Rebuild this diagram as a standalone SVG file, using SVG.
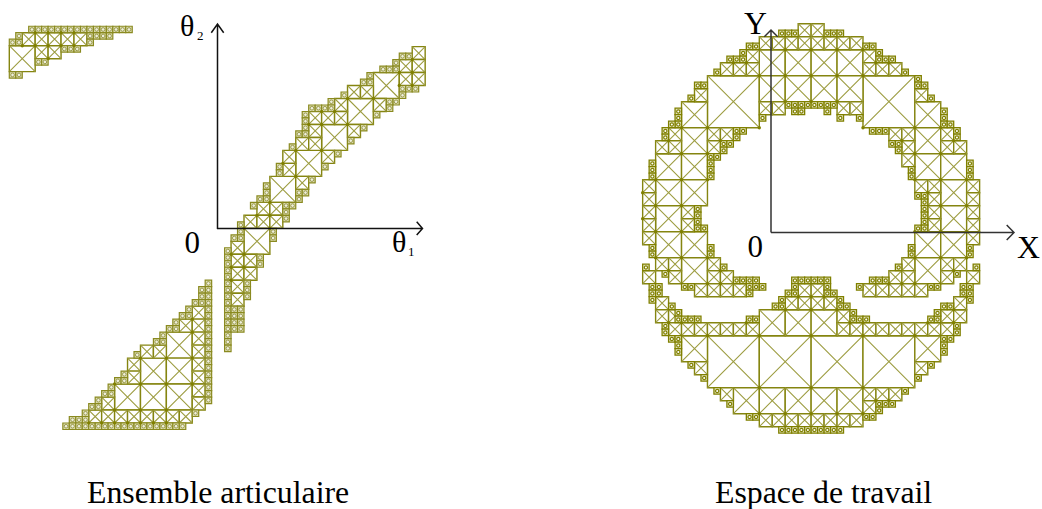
<svg xmlns="http://www.w3.org/2000/svg" width="1042" height="509" viewBox="0 0 1042 509">
<style>
.f{fill:#fff;stroke:#858510;stroke-width:1.4;vector-effect:non-scaling-stroke}
.d{fill:none;stroke:#9c9c40;stroke-width:1.1;vector-effect:non-scaling-stroke}
.o{fill:#e4e4c0;stroke:#808000;stroke-width:1.3;vector-effect:non-scaling-stroke}
.r{fill:#fff;stroke:#808000;stroke-width:1.2;vector-effect:non-scaling-stroke}
.p{fill:#dcdcb0;stroke:#8a8a20;stroke-width:1.2;vector-effect:non-scaling-stroke}
.q{fill:#eeeedc;stroke:#8a8a30;stroke-width:.8;vector-effect:non-scaling-stroke}
.k{fill:#808000}
#articular-main .f,#articular-corner .f{stroke:#98983c;stroke-width:1.7}
.ax{fill:none;stroke:#111;stroke-width:1.5}
text{font-family:"Liberation Serif","Times New Roman",serif;fill:#000}
.l{font-size:31.800px}
</style>
<defs>
<g id="S"><rect class="o" width="1" height="1"/><ellipse class="r" cx=".5" cy=".5" rx=".25" ry=".25"/></g>
<g id="T"><rect class="p" width="1" height="1"/><ellipse class="q" cx=".5" cy=".5" rx=".28" ry=".28"/></g>
<g id="M"><rect class="f" width="2" height="2"/><path class="d" d="M0 0L2 2M2 0L0 2"/></g>
<g id="L"><rect class="f" width="4" height="4"/><path class="d" d="M0 0L4 4M4 0L0 4"/></g>
<g id="B"><rect class="f" width="8" height="8"/><path class="d" d="M0 0L8 8M8 0L0 8"/></g>
<ellipse id="D" class="k" rx=".26" ry=".26"/>
</defs>

<g id="workspace" transform="translate(759.3,75.7) scale(6.48,6.5)">
<use href="#B" x="-8" y="0"/><use href="#B" x="16" y="0"/><use href="#B" x="-8" y="40"/><use href="#B" x="0" y="40"/><use href="#B" x="8" y="40"/><use href="#B" x="16" y="40"/>
<use href="#L" x="0" y="-4"/><use href="#L" x="4" y="-4"/><use href="#L" x="8" y="-4"/><use href="#L" x="12" y="-4"/><use href="#L" x="0" y="0"/><use href="#L" x="4" y="0"/><use href="#L" x="8" y="0"/><use href="#L" x="12" y="0"/>
<use href="#L" x="-12" y="4"/><use href="#L" x="-12" y="8"/><use href="#L" x="-16" y="12"/><use href="#L" x="-12" y="12"/><use href="#L" x="-16" y="16"/><use href="#L" x="-12" y="16"/><use href="#L" x="-16" y="20"/><use href="#L" x="-16" y="24"/><use href="#L" x="-12" y="24"/><use href="#L" x="-12" y="28"/><use href="#L" x="-12" y="40"/>
<use href="#L" x="0" y="36"/><use href="#L" x="4" y="36"/><use href="#L" x="8" y="36"/>
<use href="#L" x="-4" y="48"/><use href="#L" x="0" y="48"/><use href="#L" x="4" y="48"/><use href="#L" x="8" y="48"/><use href="#L" x="12" y="48"/>
<use href="#L" x="24" y="4"/><use href="#L" x="24" y="8"/><use href="#L" x="24" y="12"/><use href="#L" x="28" y="12"/><use href="#L" x="28" y="16"/><use href="#L" x="28" y="20"/><use href="#L" x="24" y="24"/><use href="#L" x="28" y="24"/><use href="#L" x="24" y="28"/><use href="#L" x="24" y="40"/>
<use href="#M" x="6" y="-8"/><use href="#M" x="8" y="-8"/>
<use href="#M" x="0" y="-6"/><use href="#M" x="2" y="-6"/><use href="#M" x="4" y="-6"/><use href="#M" x="6" y="-6"/><use href="#M" x="8" y="-6"/><use href="#M" x="10" y="-6"/><use href="#M" x="12" y="-6"/><use href="#M" x="14" y="-6"/>
<use href="#M" x="0" y="4"/><use href="#M" x="2" y="4"/><use href="#M" x="12" y="4"/><use href="#M" x="14" y="4"/>
<use href="#M" x="-2" y="-4"/><use href="#M" x="-6" y="-2"/><use href="#M" x="-4" y="-2"/><use href="#M" x="-2" y="-2"/>
<use href="#M" x="-10" y="2"/><use href="#M" x="-14" y="8"/><use href="#M" x="-8" y="8"/><use href="#M" x="-6" y="8"/><use href="#M" x="-16" y="10"/><use href="#M" x="-14" y="10"/><use href="#M" x="-8" y="10"/>
<use href="#M" x="-18" y="16"/><use href="#M" x="-18" y="18"/><use href="#M" x="-18" y="20"/><use href="#M" x="-18" y="22"/><use href="#M" x="-18" y="24"/><use href="#M" x="-12" y="20"/><use href="#M" x="-12" y="22"/>
<use href="#M" x="-16" y="28"/><use href="#M" x="-14" y="28"/><use href="#M" x="-8" y="28"/><use href="#M" x="-14" y="30"/><use href="#M" x="-8" y="30"/><use href="#M" x="-6" y="30"/>
<use href="#M" x="-10" y="32"/><use href="#M" x="-8" y="32"/><use href="#M" x="-6" y="32"/><use href="#M" x="-4" y="32"/>
<use href="#M" x="-18" y="30"/><use href="#M" x="-16" y="34"/><use href="#M" x="-16" y="36"/><use href="#M" x="-14" y="36"/>
<use href="#M" x="-14" y="38"/><use href="#M" x="-12" y="38"/><use href="#M" x="-10" y="38"/><use href="#M" x="-8" y="38"/><use href="#M" x="-6" y="38"/><use href="#M" x="-4" y="38"/><use href="#M" x="-2" y="38"/>
<use href="#M" x="-10" y="44"/><use href="#M" x="-6" y="48"/>
<use href="#M" x="0" y="52"/><use href="#M" x="2" y="52"/><use href="#M" x="4" y="52"/><use href="#M" x="6" y="52"/><use href="#M" x="8" y="52"/><use href="#M" x="10" y="52"/><use href="#M" x="12" y="52"/><use href="#M" x="14" y="52"/>
<use href="#M" x="6" y="32"/><use href="#M" x="8" y="32"/><use href="#M" x="4" y="34"/><use href="#M" x="6" y="34"/><use href="#M" x="8" y="34"/><use href="#M" x="10" y="34"/><use href="#M" x="12" y="36"/><use href="#M" x="12" y="38"/>
<use href="#M" x="14" y="38"/><use href="#M" x="16" y="38"/><use href="#M" x="18" y="38"/><use href="#M" x="20" y="38"/><use href="#M" x="22" y="38"/><use href="#M" x="24" y="38"/><use href="#M" x="26" y="38"/><use href="#M" x="28" y="38"/>
<use href="#M" x="28" y="36"/><use href="#M" x="30" y="36"/><use href="#M" x="30" y="34"/><use href="#M" x="32" y="30"/>
<use href="#M" x="24" y="44"/><use href="#M" x="16" y="48"/><use href="#M" x="18" y="48"/><use href="#M" x="20" y="48"/><use href="#M" x="16" y="50"/>
<use href="#M" x="16" y="-4"/><use href="#M" x="16" y="-2"/><use href="#M" x="18" y="-2"/><use href="#M" x="20" y="-2"/>
<use href="#M" x="20" y="8"/><use href="#M" x="22" y="8"/><use href="#M" x="22" y="10"/><use href="#M" x="22" y="12"/>
<use href="#M" x="24" y="2"/><use href="#M" x="28" y="8"/><use href="#M" x="28" y="10"/><use href="#M" x="30" y="10"/>
<use href="#M" x="24" y="16"/><use href="#M" x="26" y="16"/><use href="#M" x="32" y="16"/><use href="#M" x="32" y="18"/><use href="#M" x="26" y="18"/><use href="#M" x="26" y="20"/><use href="#M" x="32" y="20"/><use href="#M" x="32" y="22"/><use href="#M" x="26" y="22"/><use href="#M" x="32" y="24"/>
<use href="#M" x="22" y="28"/><use href="#M" x="28" y="28"/><use href="#M" x="30" y="28"/><use href="#M" x="28" y="30"/><use href="#M" x="20" y="30"/><use href="#M" x="22" y="30"/>
<use href="#M" x="16" y="32"/><use href="#M" x="18" y="32"/><use href="#M" x="20" y="32"/><use href="#M" x="22" y="32"/><use href="#M" x="24" y="32"/>
<use href="#S" x="3" y="-7"/><use href="#S" x="4" y="-7"/><use href="#S" x="5" y="-7"/><use href="#S" x="10" y="-7"/><use href="#S" x="11" y="-7"/><use href="#S" x="12" y="-7"/>
<use href="#S" x="-2" y="-5"/><use href="#S" x="-1" y="-5"/><use href="#S" x="-3" y="-4"/><use href="#S" x="-5" y="-3"/><use href="#S" x="-4" y="-3"/><use href="#S" x="-3" y="-3"/><use href="#S" x="-7" y="-1"/>
<use href="#S" x="-10" y="1"/><use href="#S" x="-9" y="1"/><use href="#S" x="-11" y="3"/><use href="#S" x="-13" y="5"/><use href="#S" x="-13" y="6"/><use href="#S" x="-13" y="7"/><use href="#S" x="-14" y="7"/><use href="#S" x="-15" y="8"/><use href="#S" x="-15" y="9"/>
<use href="#S" x="-4" y="8"/><use href="#S" x="-3" y="8"/><use href="#S" x="-4" y="9"/><use href="#S" x="-6" y="10"/><use href="#S" x="-5" y="10"/><use href="#S" x="-6" y="11"/><use href="#S" x="-8" y="12"/><use href="#S" x="-7" y="12"/><use href="#S" x="-8" y="13"/><use href="#S" x="-8" y="14"/><use href="#S" x="-8" y="15"/>
<use href="#S" x="-17" y="13"/><use href="#S" x="-17" y="14"/><use href="#S" x="-17" y="15"/>
<use href="#S" x="-10" y="20"/><use href="#S" x="-10" y="21"/><use href="#S" x="-10" y="22"/><use href="#S" x="-10" y="23"/><use href="#S" x="-9" y="23"/>
<use href="#S" x="-17" y="26"/><use href="#S" x="-17" y="27"/><use href="#S" x="-8" y="26"/><use href="#S" x="-8" y="27"/><use href="#S" x="-6" y="29"/><use href="#S" x="-15" y="30"/>
<use href="#S" x="-4" y="31"/><use href="#S" x="-3" y="31"/><use href="#S" x="-2" y="31"/><use href="#S" x="-1" y="31"/><use href="#S" x="-12" y="32"/><use href="#S" x="-11" y="32"/><use href="#S" x="-2" y="32"/><use href="#S" x="-1" y="32"/><use href="#S" x="0" y="32"/><use href="#S" x="-2" y="33"/>
<use href="#S" x="-18" y="29"/><use href="#S" x="-17" y="32"/><use href="#S" x="-16" y="32"/><use href="#S" x="-17" y="33"/><use href="#S" x="-16" y="33"/><use href="#S" x="-17" y="34"/><use href="#S" x="-14" y="35"/><use href="#S" x="-13" y="36"/>
<use href="#S" x="-13" y="37"/><use href="#S" x="-12" y="37"/><use href="#S" x="-11" y="37"/><use href="#S" x="-10" y="37"/><use href="#S" x="-2" y="37"/><use href="#S" x="-1" y="37"/><use href="#S" x="-15" y="38"/><use href="#S" x="-15" y="39"/>
<use href="#S" x="-14" y="40"/><use href="#S" x="-13" y="40"/><use href="#S" x="-13" y="41"/><use href="#S" x="-13" y="42"/><use href="#S" x="-11" y="44"/><use href="#S" x="-9" y="46"/><use href="#S" x="-7" y="48"/><use href="#S" x="-5" y="50"/><use href="#S" x="-2" y="52"/><use href="#S" x="-1" y="52"/>
<use href="#S" x="3" y="54"/><use href="#S" x="4" y="54"/><use href="#S" x="5" y="54"/><use href="#S" x="6" y="54"/><use href="#S" x="7" y="54"/><use href="#S" x="8" y="54"/><use href="#S" x="9" y="54"/><use href="#S" x="10" y="54"/><use href="#S" x="11" y="54"/><use href="#S" x="12" y="54"/>
<use href="#S" x="5" y="31"/><use href="#S" x="6" y="31"/><use href="#S" x="7" y="31"/><use href="#S" x="8" y="31"/><use href="#S" x="9" y="31"/><use href="#S" x="10" y="31"/><use href="#S" x="5" y="32"/><use href="#S" x="10" y="32"/><use href="#S" x="4" y="33"/><use href="#S" x="5" y="33"/><use href="#S" x="10" y="33"/><use href="#S" x="11" y="33"/><use href="#S" x="3" y="34"/><use href="#S" x="2" y="35"/><use href="#S" x="3" y="35"/><use href="#S" x="12" y="34"/><use href="#S" x="12" y="35"/><use href="#S" x="13" y="35"/>
<use href="#S" x="14" y="36"/><use href="#S" x="14" y="37"/><use href="#S" x="15" y="37"/><use href="#S" x="16" y="37"/><use href="#S" x="26" y="37"/><use href="#S" x="27" y="37"/><use href="#S" x="28" y="35"/><use href="#S" x="27" y="36"/><use href="#S" x="29" y="35"/><use href="#S" x="30" y="38"/><use href="#S" x="30" y="39"/>
<use href="#S" x="31" y="32"/><use href="#S" x="32" y="32"/><use href="#S" x="31" y="33"/><use href="#S" x="32" y="33"/><use href="#S" x="32" y="34"/><use href="#S" x="33" y="29"/>
<use href="#S" x="28" y="40"/><use href="#S" x="29" y="40"/><use href="#S" x="28" y="41"/><use href="#S" x="28" y="42"/><use href="#S" x="26" y="44"/><use href="#S" x="24" y="46"/><use href="#S" x="22" y="48"/><use href="#S" x="18" y="50"/><use href="#S" x="19" y="50"/><use href="#S" x="20" y="50"/><use href="#S" x="18" y="51"/><use href="#S" x="16" y="52"/><use href="#S" x="17" y="52"/>
<use href="#S" x="16" y="-5"/><use href="#S" x="17" y="-5"/><use href="#S" x="18" y="-4"/><use href="#S" x="18" y="-3"/><use href="#S" x="19" y="-3"/><use href="#S" x="20" y="-3"/><use href="#S" x="22" y="-1"/>
<use href="#S" x="4" y="4"/><use href="#S" x="5" y="4"/><use href="#S" x="6" y="4"/><use href="#S" x="7" y="4"/><use href="#S" x="8" y="4"/><use href="#S" x="9" y="4"/><use href="#S" x="10" y="4"/><use href="#S" x="11" y="4"/><use href="#S" x="5" y="5"/><use href="#S" x="6" y="5"/><use href="#S" x="10" y="5"/><use href="#S" x="0" y="6"/><use href="#S" x="12" y="6"/><use href="#S" x="15" y="6"/>
<use href="#S" x="17" y="8"/><use href="#S" x="18" y="8"/><use href="#S" x="19" y="8"/><use href="#S" x="20" y="10"/><use href="#S" x="21" y="10"/><use href="#S" x="21" y="11"/><use href="#S" x="23" y="14"/><use href="#S" x="23" y="15"/>
<use href="#S" x="24" y="0"/><use href="#S" x="24" y="1"/><use href="#S" x="25" y="1"/><use href="#S" x="26" y="3"/><use href="#S" x="28" y="5"/><use href="#S" x="28" y="6"/><use href="#S" x="28" y="7"/><use href="#S" x="29" y="7"/><use href="#S" x="30" y="8"/><use href="#S" x="30" y="9"/><use href="#S" x="32" y="13"/><use href="#S" x="32" y="14"/><use href="#S" x="32" y="15"/>
<use href="#S" x="24" y="18"/><use href="#S" x="25" y="18"/><use href="#S" x="25" y="19"/><use href="#S" x="25" y="20"/><use href="#S" x="25" y="21"/><use href="#S" x="25" y="22"/><use href="#S" x="24" y="23"/><use href="#S" x="25" y="23"/>
<use href="#S" x="32" y="26"/><use href="#S" x="32" y="27"/><use href="#S" x="23" y="26"/><use href="#S" x="23" y="27"/><use href="#S" x="21" y="29"/><use href="#S" x="30" y="30"/>
<use href="#S" x="26" y="32"/><use href="#S" x="27" y="32"/><use href="#S" x="15" y="32"/><use href="#S" x="17" y="31"/><use href="#S" x="18" y="31"/><use href="#S" x="19" y="31"/>
<use href="#D" x="0" y="0"/><use href="#D" x="4" y="-4"/><use href="#D" x="8" y="-4"/><use href="#D" x="12" y="-4"/><use href="#D" x="16" y="-4"/><use href="#D" x="4" y="0"/><use href="#D" x="8" y="0"/><use href="#D" x="12" y="0"/><use href="#D" x="16" y="0"/><use href="#D" x="4" y="4"/><use href="#D" x="8" y="4"/><use href="#D" x="12" y="4"/><use href="#D" x="16" y="8"/><use href="#D" x="24" y="8"/><use href="#D" x="24" y="12"/><use href="#D" x="28" y="12"/><use href="#D" x="28" y="8"/><use href="#D" x="30" y="10"/><use href="#D" x="22" y="10"/><use href="#D" x="24" y="16"/><use href="#D" x="28" y="16"/><use href="#D" x="32" y="16"/><use href="#D" x="26" y="18"/><use href="#D" x="28" y="20"/><use href="#D" x="32" y="20"/><use href="#D" x="18" y="-2"/><use href="#D" x="20" y="-2"/>
<use href="#D" x="-8" y="8"/><use href="#D" x="0" y="8"/><use href="#D" x="-12" y="8"/><use href="#D" x="-14" y="10"/><use href="#D" x="-12" y="12"/><use href="#D" x="-8" y="12"/><use href="#D" x="-6" y="10"/><use href="#D" x="-16" y="16"/><use href="#D" x="-12" y="16"/><use href="#D" x="-8" y="16"/><use href="#D" x="-18" y="18"/><use href="#D" x="-16" y="20"/><use href="#D" x="-12" y="20"/><use href="#D" x="-18" y="22"/><use href="#D" x="-4" y="-2"/><use href="#D" x="-2" y="-2"/>
<use href="#D" x="-16" y="24"/><use href="#D" x="-12" y="24"/><use href="#D" x="-8" y="28"/><use href="#D" x="-12" y="28"/><use href="#D" x="-16" y="28"/><use href="#D" x="-14" y="30"/><use href="#D" x="-6" y="30"/><use href="#D" x="-8" y="32"/><use href="#D" x="-6" y="32"/><use href="#D" x="4" y="36"/><use href="#D" x="8" y="36"/><use href="#D" x="-8" y="40"/><use href="#D" x="0" y="40"/><use href="#D" x="8" y="40"/><use href="#D" x="0" y="48"/><use href="#D" x="8" y="48"/><use href="#D" x="0" y="52"/><use href="#D" x="4" y="52"/><use href="#D" x="8" y="52"/><use href="#D" x="6" y="34"/><use href="#D" x="8" y="34"/><use href="#D" x="10" y="34"/><use href="#D" x="-14" y="38"/><use href="#D" x="-12" y="38"/><use href="#D" x="-2" y="38"/>
<use href="#D" x="16" y="40"/><use href="#D" x="24" y="40"/><use href="#D" x="16" y="48"/><use href="#D" x="12" y="36"/><use href="#D" x="12" y="52"/><use href="#D" x="16" y="52"/><use href="#D" x="18" y="50"/><use href="#D" x="20" y="50"/><use href="#D" x="14" y="38"/><use href="#D" x="16" y="38"/><use href="#D" x="26" y="38"/><use href="#D" x="30" y="38"/><use href="#D" x="30" y="36"/><use href="#D" x="24" y="28"/><use href="#D" x="28" y="28"/><use href="#D" x="24" y="24"/><use href="#D" x="28" y="24"/><use href="#D" x="32" y="24"/><use href="#D" x="30" y="30"/><use href="#D" x="24" y="32"/><use href="#D" x="22" y="32"/><use href="#D" x="20" y="32"/><use href="#D" x="32" y="28"/><use href="#D" x="32" y="34"/>
</g>

<g id="articular-main" transform="translate(244,228.3) scale(6.47,6.49)">
<use href="#L" x="0" y="0"/><use href="#L" x="4" y="-8"/><use href="#L" x="8" y="-12"/><use href="#L" x="12" y="-16"/><use href="#L" x="16" y="-20"/><use href="#L" x="20" y="-24"/>
<use href="#L" x="-12" y="16"/><use href="#L" x="-16" y="20"/><use href="#L" x="-12" y="20"/><use href="#L" x="-20" y="24"/><use href="#L" x="-16" y="24"/><use href="#L" x="-12" y="24"/>
<use href="#M" x="26" y="-28"/><use href="#M" x="24" y="-26"/><use href="#M" x="26" y="-26"/><use href="#M" x="24" y="-24"/><use href="#M" x="26" y="-24"/><use href="#M" x="16" y="-22"/><use href="#M" x="18" y="-22"/><use href="#M" x="20" y="-20"/><use href="#M" x="14" y="-20"/>
<use href="#M" x="10" y="-18"/><use href="#M" x="12" y="-18"/><use href="#M" x="14" y="-18"/><use href="#M" x="10" y="-16"/><use href="#M" x="16" y="-16"/><use href="#M" x="8" y="-14"/><use href="#M" x="10" y="-14"/><use href="#M" x="6" y="-12"/><use href="#M" x="12" y="-12"/><use href="#M" x="6" y="-10"/><use href="#M" x="8" y="-8"/>
<use href="#M" x="2" y="-4"/><use href="#M" x="4" y="-4"/><use href="#M" x="0" y="-2"/><use href="#M" x="2" y="-2"/><use href="#M" x="4" y="-2"/><use href="#M" x="-2" y="2"/>
<use href="#M" x="-2" y="4"/><use href="#M" x="0" y="4"/><use href="#M" x="-2" y="6"/><use href="#M" x="0" y="6"/><use href="#M" x="-2" y="8"/><use href="#M" x="-2" y="10"/>
<use href="#M" x="-8" y="12"/><use href="#M" x="-10" y="14"/><use href="#M" x="-8" y="14"/><use href="#M" x="-8" y="16"/><use href="#M" x="-8" y="18"/><use href="#M" x="-8" y="20"/><use href="#M" x="-8" y="22"/><use href="#M" x="-8" y="24"/><use href="#M" x="-8" y="26"/>
<use href="#M" x="-16" y="18"/><use href="#M" x="-14" y="18"/><use href="#M" x="-18" y="20"/><use href="#M" x="-18" y="22"/><use href="#M" x="-22" y="26"/>
<use href="#M" x="-24" y="28"/><use href="#M" x="-22" y="28"/><use href="#M" x="-20" y="28"/><use href="#M" x="-18" y="28"/><use href="#M" x="-16" y="28"/><use href="#M" x="-14" y="28"/><use href="#M" x="-12" y="28"/><use href="#M" x="-10" y="28"/>
<use href="#T" x="24" y="-27"/><use href="#T" x="25" y="-27"/><use href="#T" x="23" y="-26"/><use href="#T" x="23" y="-25"/><use href="#T" x="21" y="-25"/><use href="#T" x="22" y="-25"/><use href="#T" x="19" y="-24"/><use href="#T" x="18" y="-23"/><use href="#T" x="19" y="-23"/><use href="#T" x="15" y="-21"/>
<use href="#T" x="24" y="-22"/><use href="#T" x="25" y="-22"/><use href="#T" x="26" y="-22"/><use href="#T" x="24" y="-21"/><use href="#T" x="23" y="-20"/><use href="#T" x="22" y="-20"/><use href="#T" x="22" y="-19"/><use href="#T" x="20" y="-18"/>
<use href="#T" x="13" y="-20"/><use href="#T" x="10" y="-19"/><use href="#T" x="11" y="-19"/><use href="#T" x="12" y="-19"/><use href="#T" x="13" y="-19"/><use href="#T" x="9" y="-18"/><use href="#T" x="9" y="-17"/><use href="#T" x="9" y="-16"/><use href="#T" x="8" y="-15"/><use href="#T" x="9" y="-15"/>
<use href="#T" x="18" y="-16"/><use href="#T" x="16" y="-14"/><use href="#T" x="7" y="-13"/><use href="#T" x="14" y="-12"/><use href="#T" x="5" y="-10"/><use href="#T" x="5" y="-9"/><use href="#T" x="12" y="-10"/><use href="#T" x="10" y="-8"/><use href="#T" x="8" y="-6"/><use href="#T" x="9" y="-6"/><use href="#T" x="8" y="-5"/>
<use href="#T" x="3" y="-7"/><use href="#T" x="3" y="-6"/><use href="#T" x="2" y="-5"/><use href="#T" x="3" y="-5"/><use href="#T" x="1" y="-4"/><use href="#T" x="6" y="-4"/><use href="#T" x="7" y="-4"/><use href="#T" x="6" y="-3"/><use href="#T" x="6" y="-2"/>
<use href="#T" x="-1" y="-1"/><use href="#T" x="-1" y="0"/><use href="#T" x="-2" y="1"/><use href="#T" x="-1" y="1"/><use href="#T" x="4" y="0"/><use href="#T" x="4" y="1"/>
<use href="#T" x="2" y="4"/><use href="#T" x="2" y="5"/><use href="#T" x="0" y="8"/><use href="#T" x="0" y="9"/><use href="#T" x="0" y="10"/>
<use href="#T" x="-3" y="3"/><use href="#T" x="-3" y="4"/><use href="#T" x="-3" y="5"/><use href="#T" x="-3" y="6"/><use href="#T" x="-3" y="7"/><use href="#T" x="-3" y="8"/><use href="#T" x="-3" y="9"/><use href="#T" x="-3" y="10"/><use href="#T" x="-3" y="11"/><use href="#T" x="-3" y="12"/><use href="#T" x="-3" y="13"/><use href="#T" x="-3" y="14"/><use href="#T" x="-3" y="15"/><use href="#T" x="-3" y="16"/><use href="#T" x="-3" y="17"/><use href="#T" x="-3" y="18"/>
<use href="#T" x="-2" y="12"/><use href="#T" x="-1" y="12"/><use href="#T" x="-2" y="13"/><use href="#T" x="-1" y="13"/><use href="#T" x="-2" y="14"/><use href="#T" x="-1" y="14"/><use href="#T" x="-2" y="15"/><use href="#T" x="-1" y="15"/>
<use href="#T" x="-6" y="8"/><use href="#T" x="-6" y="9"/><use href="#T" x="-6" y="10"/><use href="#T" x="-6" y="11"/><use href="#T" x="-6" y="12"/><use href="#T" x="-6" y="13"/><use href="#T" x="-6" y="14"/><use href="#T" x="-6" y="15"/><use href="#T" x="-6" y="16"/><use href="#T" x="-6" y="17"/><use href="#T" x="-6" y="18"/><use href="#T" x="-6" y="19"/><use href="#T" x="-6" y="20"/><use href="#T" x="-6" y="21"/><use href="#T" x="-6" y="22"/><use href="#T" x="-6" y="23"/><use href="#T" x="-6" y="24"/><use href="#T" x="-6" y="25"/><use href="#T" x="-6" y="26"/>
<use href="#T" x="-7" y="9"/><use href="#T" x="-7" y="10"/><use href="#T" x="-8" y="11"/><use href="#T" x="-7" y="11"/><use href="#T" x="-9" y="12"/><use href="#T" x="-10" y="13"/><use href="#T" x="-9" y="13"/><use href="#T" x="-11" y="14"/><use href="#T" x="-12" y="15"/><use href="#T" x="-11" y="15"/>
<use href="#T" x="-13" y="16"/><use href="#T" x="-14" y="17"/><use href="#T" x="-13" y="17"/><use href="#T" x="-17" y="19"/><use href="#T" x="-19" y="22"/><use href="#T" x="-20" y="23"/><use href="#T" x="-19" y="23"/><use href="#T" x="-21" y="24"/><use href="#T" x="-22" y="25"/><use href="#T" x="-21" y="25"/><use href="#T" x="-23" y="26"/><use href="#T" x="-24" y="27"/><use href="#T" x="-23" y="27"/><use href="#T" x="-25" y="28"/><use href="#T" x="-25" y="29"/><use href="#T" x="-27" y="29"/><use href="#T" x="-26" y="29"/><use href="#T" x="-8" y="28"/>
<use href="#T" x="-28" y="30"/><use href="#T" x="-27" y="30"/><use href="#T" x="-26" y="30"/><use href="#T" x="-25" y="30"/><use href="#T" x="-24" y="30"/><use href="#T" x="-23" y="30"/><use href="#T" x="-22" y="30"/><use href="#T" x="-21" y="30"/><use href="#T" x="-20" y="30"/><use href="#T" x="-19" y="30"/><use href="#T" x="-18" y="30"/><use href="#T" x="-17" y="30"/><use href="#T" x="-16" y="30"/><use href="#T" x="-15" y="30"/><use href="#T" x="-14" y="30"/><use href="#T" x="-13" y="30"/><use href="#T" x="-12" y="30"/><use href="#T" x="-11" y="30"/><use href="#T" x="-10" y="30"/>
<use href="#D" x="24" y="-24"/><use href="#D" x="26" y="-26"/><use href="#D" x="26" y="-24"/><use href="#D" x="24" y="-22"/><use href="#D" x="26" y="-22"/><use href="#D" x="20" y="-20"/><use href="#D" x="16" y="-20"/><use href="#D" x="16" y="-16"/><use href="#D" x="12" y="-16"/><use href="#D" x="14" y="-18"/><use href="#D" x="12" y="-18"/><use href="#D" x="10" y="-16"/><use href="#D" x="12" y="-12"/><use href="#D" x="8" y="-12"/><use href="#D" x="8" y="-8"/><use href="#D" x="6" y="-10"/><use href="#D" x="4" y="-4"/><use href="#D" x="2" y="-2"/><use href="#D" x="4" y="-2"/><use href="#D" x="4" y="0"/><use href="#D" x="0" y="0"/><use href="#D" x="0" y="4"/><use href="#D" x="-2" y="4"/><use href="#D" x="0" y="6"/><use href="#D" x="-2" y="6"/><use href="#D" x="-2" y="8"/>
<use href="#D" x="-8" y="14"/><use href="#D" x="-8" y="16"/><use href="#D" x="-12" y="20"/><use href="#D" x="-8" y="20"/><use href="#D" x="-16" y="20"/><use href="#D" x="-16" y="24"/><use href="#D" x="-12" y="24"/><use href="#D" x="-8" y="24"/><use href="#D" x="-12" y="28"/><use href="#D" x="-16" y="28"/><use href="#D" x="-20" y="28"/><use href="#D" x="-20" y="24"/>
<use href="#D" x="-24" y="30"/><use href="#D" x="-22" y="30"/><use href="#D" x="-20" y="30"/><use href="#D" x="-18" y="30"/><use href="#D" x="-16" y="30"/><use href="#D" x="-14" y="30"/><use href="#D" x="-12" y="30"/>
</g>

<g id="articular-corner" transform="translate(9.3,45.7) scale(6.47,6.49)">
<use href="#L" x="0" y="0"/><use href="#M" x="2" y="-2"/><use href="#M" x="4" y="-2"/><use href="#M" x="6" y="-2"/><use href="#M" x="8" y="-2"/><use href="#M" x="10" y="-2"/><use href="#M" x="4" y="0"/><use href="#M" x="6" y="0"/>
<use href="#T" x="0" y="-1"/><use href="#T" x="1" y="-1"/><use href="#T" x="1" y="-2"/><use href="#T" x="8" y="0"/><use href="#T" x="9" y="0"/><use href="#T" x="10" y="0"/><use href="#T" x="4" y="2"/><use href="#T" x="5" y="2"/><use href="#T" x="0" y="4"/><use href="#T" x="1" y="4"/><use href="#T" x="12" y="-2"/><use href="#T" x="12" y="-1"/><use href="#T" x="13" y="-2"/><use href="#T" x="14" y="-2"/><use href="#T" x="15" y="-2"/>
<use href="#T" x="3" y="-3"/><use href="#T" x="4" y="-3"/><use href="#T" x="5" y="-3"/><use href="#T" x="6" y="-3"/><use href="#T" x="7" y="-3"/><use href="#T" x="8" y="-3"/><use href="#T" x="9" y="-3"/><use href="#T" x="10" y="-3"/><use href="#T" x="11" y="-3"/><use href="#T" x="12" y="-3"/><use href="#T" x="13" y="-3"/><use href="#T" x="14" y="-3"/><use href="#T" x="15" y="-3"/><use href="#T" x="16" y="-3"/><use href="#T" x="17" y="-3"/><use href="#T" x="18" y="-3"/>
<use href="#D" x="4" y="-2"/><use href="#D" x="6" y="-2"/><use href="#D" x="8" y="-2"/><use href="#D" x="10" y="-2"/><use href="#D" x="2" y="0"/><use href="#D" x="4" y="0"/><use href="#D" x="6" y="0"/><use href="#D" x="8" y="0"/><use href="#D" x="10" y="0"/><use href="#D" x="6" y="2"/>
</g>

<g id="axes">
<path class="ax" d="M217.5 229V24M211.3 32.7L217.5 24L223.7 32.7M217 228.5H422M416.7 221.7L422.5 228.5L416.7 235"/>
<path class="ax" style="stroke:#333" d="M771 232.5V30M764.3 36.7L771 30L777.7 36.7M771 232.5H1013M1006.7 225L1014 232.5L1006.7 240"/>
</g>

<g id="labels">
<text x="180" y="36" style="font-size:30px">θ</text>
<text x="197" y="40" style="font-size:13px">2</text>
<text x="392" y="252" style="font-size:30px">θ</text>
<text x="408" y="256" style="font-size:13px">1</text>
<text class="l" x="184.500" y="253" style="font-size:31px">0</text>
<text class="l" x="747.500" y="257" style="font-size:31px">0</text>
<text class="l" x="744" y="34">Y</text>
<text class="l" x="1017" y="258">X</text>
<text class="l" x="87" y="503">Ensemble articulaire</text>
<text class="l" x="715" y="503">Espace de travail</text>
</g>
</svg>
